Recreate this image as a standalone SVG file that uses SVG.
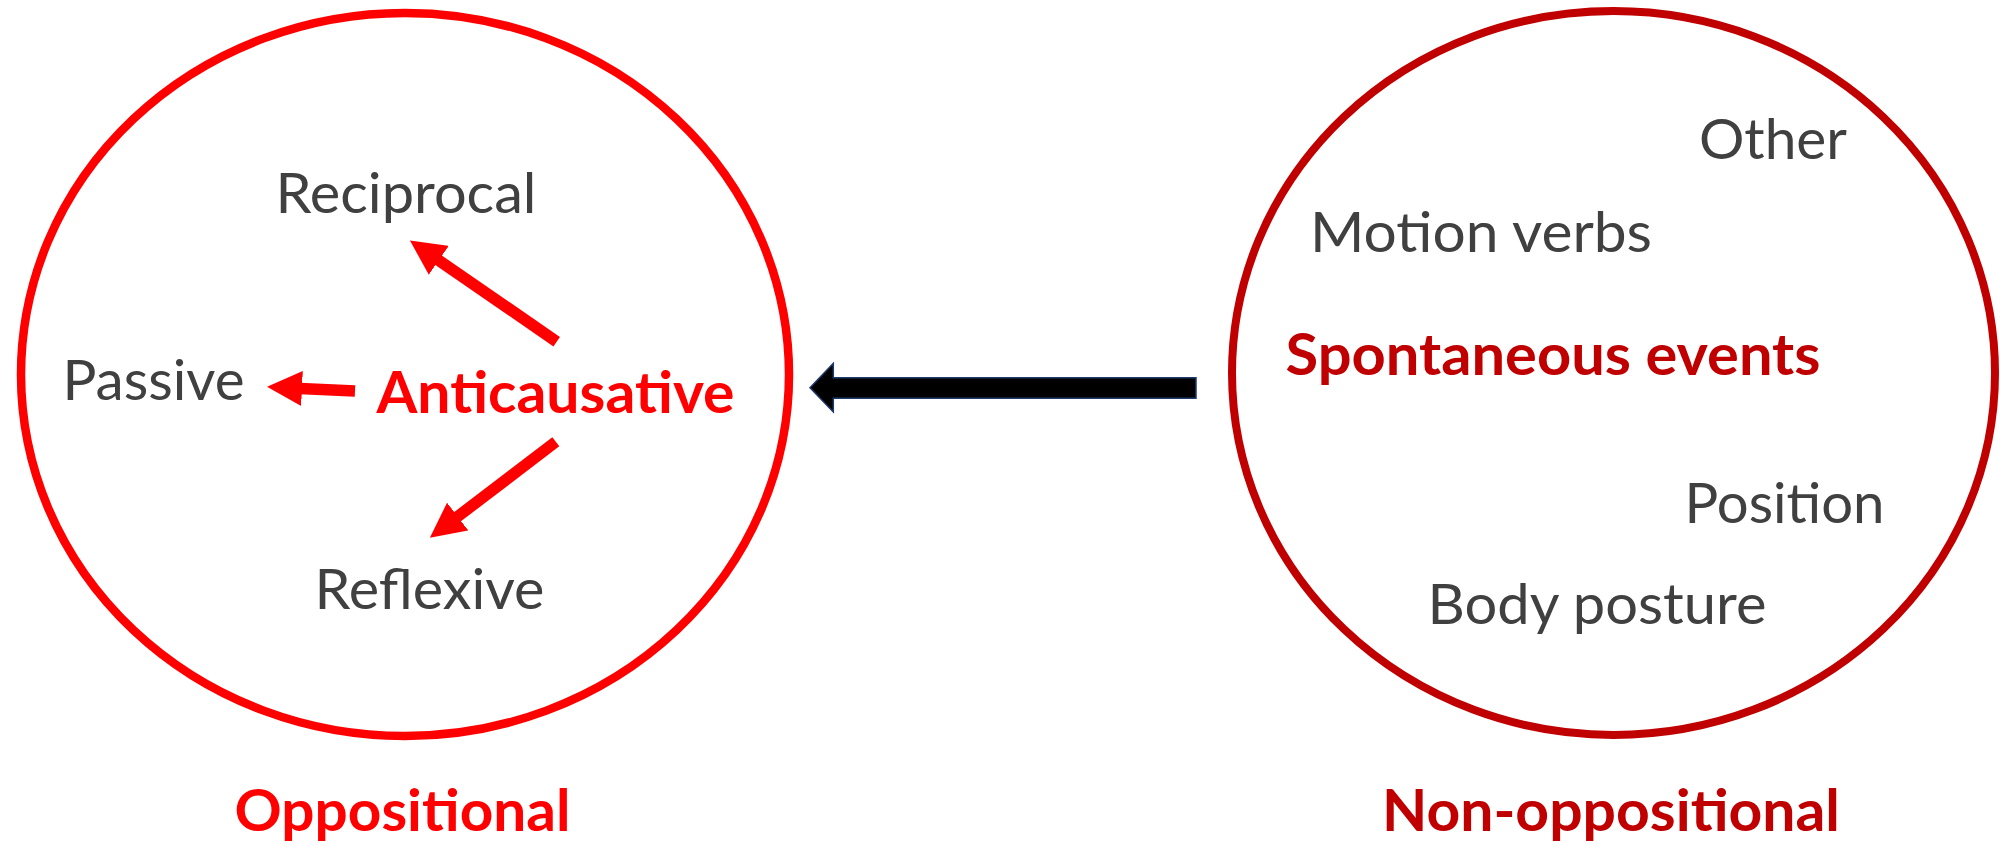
<svg xmlns="http://www.w3.org/2000/svg" width="2000" height="843" viewBox="0 0 2000 843">
<defs>
<style>
.lbl{font-family:Lato,"Open Sans","Liberation Sans",sans-serif;font-size:57px;fill:#404040;text-anchor:middle}
.b1{font-family:Lato,"Open Sans","Liberation Sans",sans-serif;font-size:58px;font-weight:bold;fill:#FF0000;text-anchor:middle}
.b2{font-family:Lato,"Open Sans","Liberation Sans",sans-serif;font-size:58px;font-weight:bold;fill:#C00000;text-anchor:middle}
.red{stroke:#FF0000;stroke-width:11.5;fill:none;marker-end:url(#rh)}
</style>
<marker id="rh" markerUnits="userSpaceOnUse" markerWidth="35" markerHeight="35" viewBox="0 0 35 35" refX="2" refY="17.5" orient="auto">
<path d="M0,0 L35,17.5 L0,35 z" fill="#FF0000"/>
</marker>
</defs>
<rect width="2000" height="843" fill="#FFFFFF"/>
<g id="oppositional">
<ellipse cx="405" cy="374.5" rx="384" ry="361.5" fill="none" stroke="#FF0000" stroke-width="8.5"/>
<text class="b1" x="402.5" y="831" textLength="336" lengthAdjust="spacingAndGlyphs">Oppositional</text>
</g>
<g id="anticausative"><text class="b1" x="555.5" y="413" textLength="358" lengthAdjust="spacingAndGlyphs">Anticausative</text></g>
<g id="reciprocal"><text class="lbl" x="406" y="213" textLength="261" lengthAdjust="spacingAndGlyphs">Reciprocal</text></g>
<g id="passive"><text class="lbl" x="153.5" y="399.5" textLength="182" lengthAdjust="spacingAndGlyphs">Passive</text></g>
<g id="reflexive"><text class="lbl" x="429.5" y="609" textLength="230" lengthAdjust="spacingAndGlyphs">Reflexive</text></g>
<g id="non-oppositional">
<ellipse cx="1613.5" cy="373" rx="381.5" ry="362" fill="none" stroke="#C00000" stroke-width="8"/>
<text class="b2" x="1611" y="831" textLength="458" lengthAdjust="spacingAndGlyphs">Non-oppositional</text>
</g>
<g id="spontaneous"><text class="b2" x="1553" y="375" textLength="535" lengthAdjust="spacingAndGlyphs">Spontaneous events</text></g>
<g id="other"><text class="lbl" x="1773" y="158.5" textLength="148" lengthAdjust="spacingAndGlyphs">Other</text></g>
<g id="motion"><text class="lbl" x="1481" y="251.5" textLength="342" lengthAdjust="spacingAndGlyphs">Motion verbs</text></g>
<g id="position"><text class="lbl" x="1784.5" y="522.5" textLength="200" lengthAdjust="spacingAndGlyphs">Position</text></g>
<g id="body"><text class="lbl" x="1597" y="623.5" textLength="339" lengthAdjust="spacingAndGlyphs">Body posture</text></g>
<g id="connectors">
<line class="red" x1="556.7" y1="341.7" x2="437.1" y2="259.2"/>
<line class="red" x1="355" y1="391" x2="300" y2="388.4"/>
<line class="red" x1="555.8" y1="441.7" x2="456.1" y2="517.8"/>
<polygon points="1196,377.7 833.3,377.7 833.3,363.3 810,387.8 833.3,412 833.3,398.3 1196,398.3" fill="#000000" stroke="#1F3A6E" stroke-width="1.5"/>
</g>
</svg>
